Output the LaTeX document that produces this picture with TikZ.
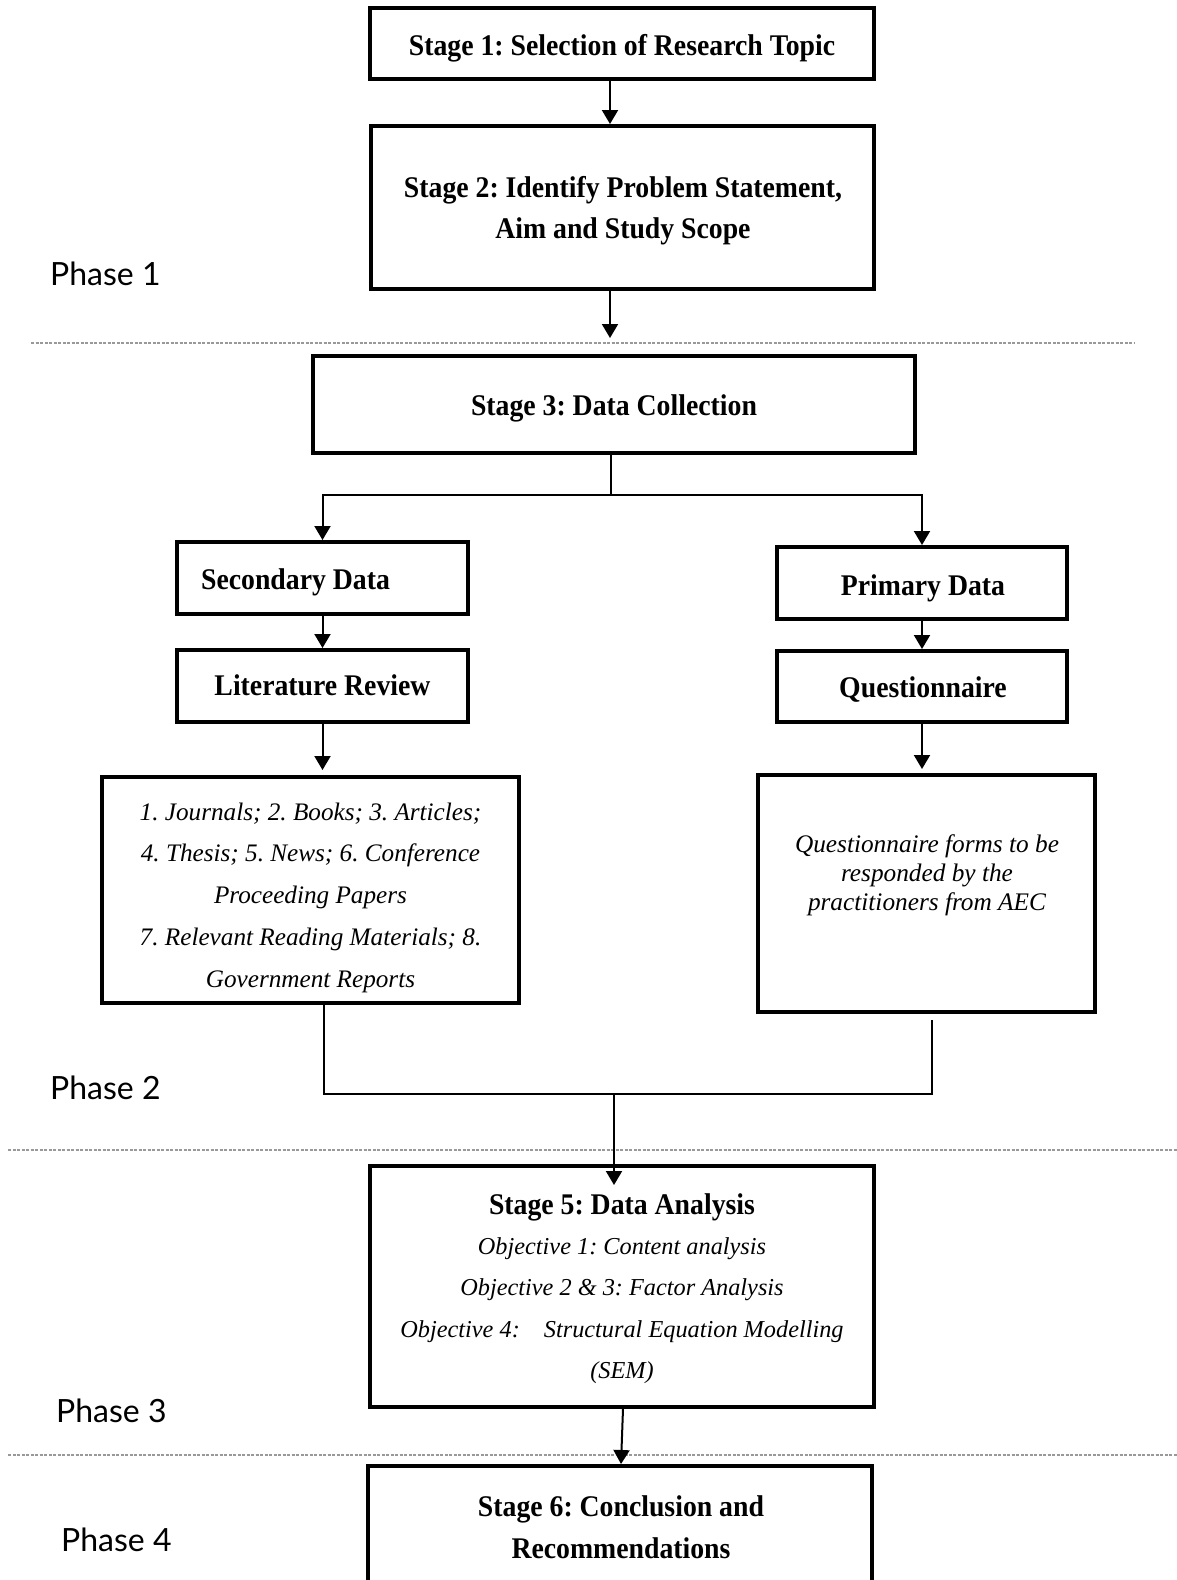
\documentclass[tikz,border=0pt]{standalone}
\usepackage{fontspec}
\setmainfont{Liberation Serif}
\newfontfamily\boldfont{Liberation Serif}[FakeStretch=0.925]
\newfontfamily\phasefont{Lato}
\usetikzlibrary{arrows.meta,calc}
\begin{document}
\frenchspacing
\begin{tikzpicture}[x=1pt,y=-1pt,
  box/.style={draw,line width=4pt,inner sep=0pt},
  bt/.style={font=\boldfont\fontsize{30}{41.5}\selectfont\bfseries,align=center,inner sep=0pt,anchor=base},
  it/.style n args={2}{font=\fontsize{#1}{#2}\selectfont\itshape,align=center,inner sep=0pt,anchor=base},
  conn/.style={line width=2pt},
  arr/.style={conn,-{Triangle[width=16pt,length=14pt]}},
  sep/.style={gray!80,line width=1.2pt,dash pattern=on 3pt off 1.5pt},
  phase/.style={font=\phasefont\fontsize{32}{34}\selectfont,anchor=base west,inner sep=0pt}]
\useasboundingbox (0,0) rectangle (1177,1580);
\clip (0,0) rectangle (1177,1580);
\fill[white] (0,0) rectangle (1177,1580);

% separators
\draw[sep] (31,343) -- (1134,343);
\draw[sep] (8,1150) -- (1177,1150);
\draw[sep] (8,1455) -- (1177,1455);

% phase labels
\node[phase] (p1) at (50,285) {Phase 1};
\node[phase] (p2) at (50,1099) {Phase 2};
\node[phase] (p3) at (56,1422) {Phase 3};
\node[phase] (p4) at (61,1551) {Phase 4};

% boxes
\node[box,minimum width=504pt,minimum height=71pt] (b1) at (622,43.5) {};
\node[box,minimum width=503pt,minimum height=163pt] (b2) at (622.5,207.5) {};
\node[box,minimum width=602pt,minimum height=97pt] (b3) at (614,404.5) {};
\node[box,minimum width=291pt,minimum height=72pt] (sec) at (322.5,578) {};
\node[box,minimum width=290pt,minimum height=72pt] (prim) at (922,583) {};
\node[box,minimum width=291pt,minimum height=72pt] (lr) at (322.5,686) {};
\node[box,minimum width=290pt,minimum height=71pt] (q) at (922,686.5) {};
\node[box,minimum width=417pt,minimum height=226pt] (src) at (310.5,890) {};
\node[box,minimum width=337pt,minimum height=237pt] (qf) at (926.5,893.5) {};
\node[box,minimum width=504pt,minimum height=241pt] (b5) at (622,1286.5) {};
\node[box,minimum width=504pt,minimum height=125pt] (b6) at (620,1528.5) {};

% texts (multi-line nodes are anchored at the baseline of their last line)
\node[bt] (t1) at (622,55) {Stage 1: Selection of Research Topic};
\node[bt] (t2) at (623,238.9) {Stage 2: Identify Problem Statement,\\Aim and Study Scope};
\node[bt] (t3) at (614,415.5) {Stage 3: Data Collection};
\node[bt] (tsec) at (295.5,589) {Secondary Data};
\node[bt] (tprim) at (923,595) {Primary Data};
\node[bt] (tlr) at (322.5,695) {Literature Review};
\node[bt] (tq) at (923,697) {Questionnaire};
\node[it={25.2}{41.8}] (tsrc) at (310.5,987.2) {1. Journals; 2. Books; 3. Articles;\\4. Thesis; 5. News; 6. Conference\\Proceeding Papers\\7. Relevant Reading Materials; 8.\\Government Reports};
\node[it={25.3}{29.2}] (tqf) at (927,910.9) {Questionnaire forms to be\\responded by the\\practitioners from AEC};
\node[bt] (t5) at (622,1214.5) {Stage 5: Data Analysis};
\node[it={24.3}{41.3}] (t5b) at (622,1378.4) {Objective 1: Content analysis\\Objective 2 \& 3: Factor Analysis\\Objective 4:\hspace{18pt} Structural Equation Modelling\\(SEM)};
\node[bt] (t6) at (621,1558) {Stage 6: Conclusion and\\Recommendations};

% connectors
\coordinate (c12) at (610,0);
\coordinate (e2) at (610,338);
\draw[arr] (b1.south -| c12) -- (b2.north -| c12);
\draw[arr] (b2.south -| c12) -- (e2);
\coordinate (s3) at (611,495);
\draw[conn] (b3.south -| s3) -- (s3);
\draw[arr] (s3) -| (sec.north);
\draw[arr] (s3) -| (prim.north);
\draw[arr] (sec.south) -- (lr.north);
\draw[arr] (prim.south) -- (q.north);
\draw[arr] (lr.south) -- ($(lr.south |- src.north)+(0,-5)$);
\draw[arr] (q.south) -- ($(q.south |- qf.north)+(0,-4)$);
\coordinate (ml) at (324,1094);
\coordinate (mr) at (932,1094);
\coordinate (m) at (614,1094);
\coordinate (e5) at (614,1185);
\draw[conn] (src.south -| ml) -- (ml) -- (mr) -- ($(qf.south -| mr)+(0,6)$);
\draw[arr] (m) -- (e5);
\coordinate (c56a) at (623,0);
\coordinate (c56b) at (621,0);
\draw[arr] (b5.south -| c56a) -- (b6.north -| c56b);
\end{tikzpicture}
\end{document}
